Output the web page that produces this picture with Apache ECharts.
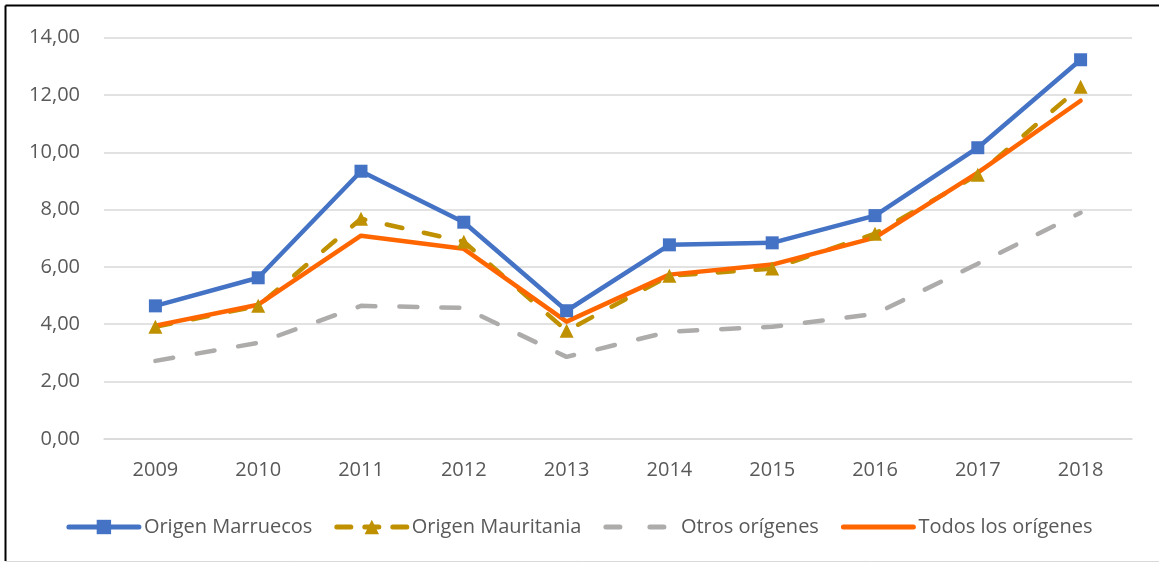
<!DOCTYPE html>
<html>
<head>
<meta charset="utf-8">
<script src="https://cdn.jsdelivr.net/npm/echarts@6/dist/echarts.min.js"></script>
<style>
html,body{margin:0;padding:0;background:#fff;}
#c{width:1159px;height:563px;}
</style>
</head>
<body>
<div id="c"></div>
<script>
var years = ['2009','2010','2011','2012','2013','2014','2015','2016','2017','2018'];
var marruecos = [4.64, 5.62, 9.34, 7.56, 4.47, 6.77, 6.84, 7.79, 10.16, 13.23];
var mauritania = [3.91, 4.64, 7.68, 6.88, 3.77, 5.69, 5.94, 7.16, 9.22, 12.29];
var otros = [2.72, 3.35, 4.64, 4.57, 2.86, 3.74, 3.91, 4.36, 6.11, 7.89];
var todos = [3.95, 4.68, 7.09, 6.63, 4.09, 5.73, 6.08, 7.02, 9.29, 11.80];
var seriesNames = ['Origen Marruecos', 'Origen Mauritania', 'Otros orígenes', 'Todos los orígenes'];
var yTicks = {min: 0, max: 14, interval: 2};

var font = '"Open Sans", "Liberation Sans", sans-serif';
var colors = ['#4472C4', '#BF9000', '#AEABAB', '#FF6600'];
var dashes = ['solid', [16, 22], [18, 24], 'solid'];
var chart = echarts.init(document.getElementById('c'), null, {renderer: 'canvas'});
chart.setOption({
  backgroundColor: '#ffffff',
  animation: false,
  graphic: [
    {type: 'line', shape: {x1: 5.5, y1: 5.5, x2: 1159, y2: 5.5}, style: {stroke: '#000', lineWidth: 2}},
    {type: 'line', shape: {x1: 5.5, y1: 5.5, x2: 5.5, y2: 561}, style: {stroke: '#000', lineWidth: 2}},
    {type: 'line', shape: {x1: 5.5, y1: 561.5, x2: 1159, y2: 561.5}, style: {stroke: '#d9d9d9', lineWidth: 1}}
  ],
  grid: {left: 104, right: 27, top: 37.7, bottom: 124.2, containLabel: false},
  legend: {
    bottom: 21,
    left: 'center',
    itemWidth: 70,
    itemHeight: 18,
    itemGap: 22,
    textStyle: {fontFamily: font, fontSize: 20, color: '#595959'},
    data: [
      {name: seriesNames[0], lineStyle: {width: 5, color: colors[0], type: 'solid', cap: 'round'}},
      {name: seriesNames[1], lineStyle: {width: 5, color: colors[1], type: [14, 14], cap: 'round'}},
      {name: seriesNames[2], itemStyle: {opacity: 0}, lineStyle: {width: 5, color: colors[2], type: [14, 30], cap: 'round'}},
      {name: seriesNames[3], itemStyle: {opacity: 0}, lineStyle: {width: 5, color: colors[3], type: 'solid', cap: 'round'}}
    ]
  },
  xAxis: {
    type: 'category',
    data: years,
    boundaryGap: true,
    axisLine: {show: true, lineStyle: {color: '#d9d9d9', width: 1.5}},
    axisTick: {show: false},
    axisLabel: {fontFamily: font, fontSize: 20, color: '#595959', margin: 21}
  },
  yAxis: {
    type: 'value',
    min: yTicks.min,
    max: yTicks.max,
    interval: yTicks.interval,
    axisLine: {show: false},
    axisTick: {show: false},
    splitLine: {lineStyle: {color: '#d9d9d9', width: 1.5}},
    axisLabel: {
      fontFamily: font, fontSize: 20, color: '#595959', margin: 24,
      formatter: function (v) { return v.toFixed(2).replace('.', ','); }
    }
  },
  series: [
    {
      name: seriesNames[0], type: 'line', data: marruecos,
      symbol: 'rect', symbolSize: 13,
      itemStyle: {color: colors[0]},
      lineStyle: {color: colors[0], width: 4.5, cap: 'round', join: 'round'}
    },
    {
      name: seriesNames[1], type: 'line', data: mauritania,
      symbol: 'triangle', symbolSize: 14,
      itemStyle: {color: colors[1]},
      lineStyle: {color: colors[1], width: 4.5, type: dashes[1], cap: 'round', join: 'round'}
    },
    {
      name: seriesNames[2], type: 'line', data: otros,
      symbol: 'none', showSymbol: false,
      itemStyle: {color: colors[2]},
      lineStyle: {color: colors[2], width: 4.5, type: dashes[2], cap: 'round', join: 'round'}
    },
    {
      name: seriesNames[3], type: 'line', data: todos,
      symbol: 'none', showSymbol: false,
      itemStyle: {color: colors[3]},
      lineStyle: {color: colors[3], width: 4.5, cap: 'round', join: 'round'}
    }
  ]
});
</script>
</body>
</html>
